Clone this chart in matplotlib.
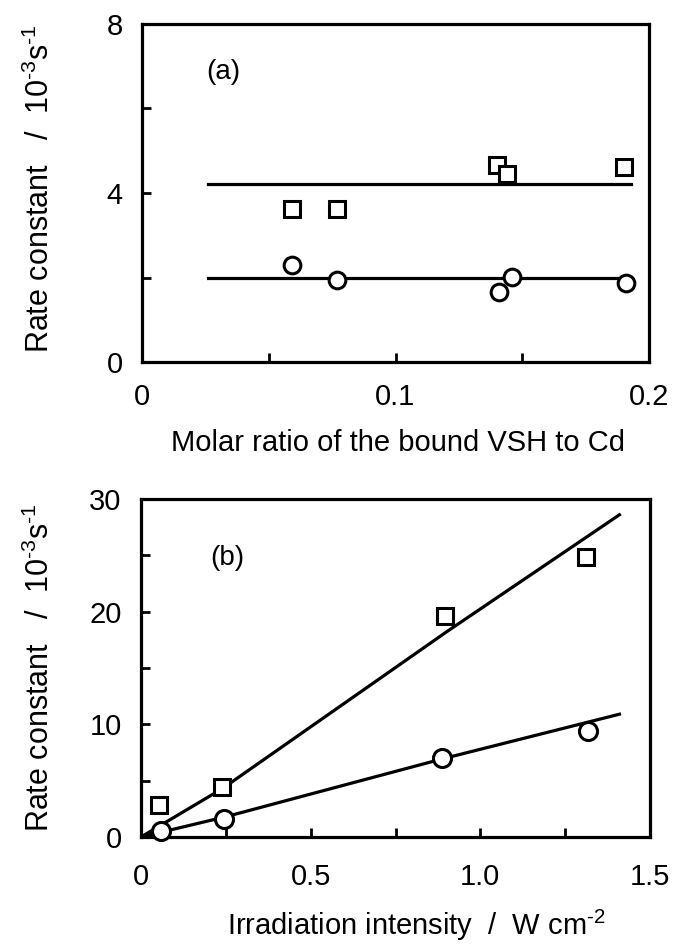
import matplotlib
matplotlib.use("Agg")
import matplotlib.pyplot as plt

plt.rcParams['font.family'] = ['Liberation Sans', 'DejaVu Sans']
plt.rcParams['mathtext.default'] = 'regular'

# ---- Panel (a) data ----
a_sq_x = [0.059, 0.077, 0.140, 0.144, 0.190]
a_sq_y = [3.63, 3.63, 4.66, 4.44, 4.62]
a_ci_x = [0.059, 0.077, 0.141, 0.146, 0.191]
a_ci_y = [2.29, 1.95, 1.65, 2.02, 1.87]
a_fit_x = [0.026, 0.193]
a_fit_sq = [4.21, 4.21]
a_fit_ci = [2.0, 2.0]

# ---- Panel (b) data ----
b_sq_x = [0.054, 0.24, 0.896, 1.311]
b_sq_y = [2.85, 4.46, 19.6, 24.83]
b_ci_x = [0.059, 0.246, 0.886, 1.318]
b_ci_y = [0.55, 1.6, 7.04, 9.43]
b_fit_sq_x = [0.0, 0.24, 0.9, 1.41]
b_fit_sq_y = [0.0, 4.3, 18.2, 28.6]
b_fit_ci_x = [0.0, 0.25, 0.89, 1.41]
b_fit_ci_y = [0.0, 1.8, 6.95, 10.9]

a_xticks = [0, 0.05, 0.1, 0.15, 0.2]
a_xlabels = ['0', '', '0.1', '', '0.2']
a_yticks = [0, 2, 4, 6, 8]
a_ylabels = ['0', '', '4', '', '8']
b_xticks = [0, 0.25, 0.5, 0.75, 1.0, 1.25, 1.5]
b_xlabels = ['0', '', '0.5', '', '1.0', '', '1.5']
b_yticks = [0, 5, 10, 15, 20, 25, 30]
b_ylabels = ['0', '', '10', '', '20', '', '30']

W, H = 673, 944
fig = plt.figure(figsize=(W / 100, H / 100), dpi=100)
ax1 = fig.add_axes([142 / W, 1 - 362 / H, 507 / W, 338 / H])
ax2 = fig.add_axes([141 / W, 1 - 837 / H, 509 / W, 338 / H])

lw_fit = 2.3
mew = 2.2

# panel a
ax1.plot(a_fit_x, a_fit_sq, color='black', lw=lw_fit, zorder=2)
ax1.plot(a_fit_x, a_fit_ci, color='black', lw=lw_fit, zorder=2)
ax1.plot(a_sq_x, a_sq_y, linestyle='none', marker='s', ms=11, mfc='white',
         mec='black', mew=mew, zorder=3, clip_on=False)
ax1.plot(a_ci_x, a_ci_y, linestyle='none', marker='o', ms=12, mfc='white',
         mec='black', mew=mew, zorder=3, clip_on=False)
ax1.set_xlim(0, 0.2)
ax1.set_ylim(0, 8)
ax1.set_xticks(a_xticks)
ax1.set_xticklabels(a_xlabels)
ax1.set_yticks(a_yticks)
ax1.set_yticklabels(a_ylabels)
ax1.text(0.032, 6.86, '(a)', fontsize=20, ha='center', va='center')

# panel b
ax2.plot(b_fit_sq_x, b_fit_sq_y, color='black', lw=lw_fit, zorder=2)
ax2.plot(b_fit_ci_x, b_fit_ci_y, color='black', lw=lw_fit, zorder=2)
ax2.plot(b_sq_x, b_sq_y, linestyle='none', marker='s', ms=11.5, mfc='white',
         mec='black', mew=mew, zorder=3, clip_on=False)
ax2.plot(b_ci_x, b_ci_y, linestyle='none', marker='o', ms=13, mfc='white',
         mec='black', mew=mew, zorder=3, clip_on=False)
ax2.set_xlim(0, 1.5)
ax2.set_ylim(0, 30)
ax2.set_xticks(b_xticks)
ax2.set_xticklabels(b_xlabels)
ax2.set_yticks(b_yticks)
ax2.set_yticklabels(b_ylabels)
ax2.text(0.255, 24.8, '(b)', fontsize=20, ha='center', va='center')

for ax, xpad in ((ax1, 15), (ax2, 19)):
    for s in ax.spines.values():
        s.set_linewidth(2.3)
    ax.tick_params(axis='both', direction='in', length=6.5, width=2,
                   labelsize=21, top=False, right=False)
    ax.tick_params(axis='x', pad=xpad)
    ax.tick_params(axis='y', pad=14)

ylab = 'Rate constant   /  10$^{\u20103}$s$^{\u20101}$'
fig.text(40 / W, 1 - 189 / H, ylab, rotation=90, ha='center', va='center', fontsize=22)
fig.text(40 / W, 1 - 668 / H, ylab, rotation=90, ha='center', va='center', fontsize=22)

fig.text(398 / W, 1 - 451 / H, 'Molar ratio of the bound VSH to Cd',
         ha='center', va='baseline', fontsize=21)
fig.text(416 / W, 1 - 935 / H, 'Irradiation intensity  /  W cm$^{\u20102}$',
         ha='center', va='baseline', fontsize=21)

fig.savefig('out.png', dpi=100)
